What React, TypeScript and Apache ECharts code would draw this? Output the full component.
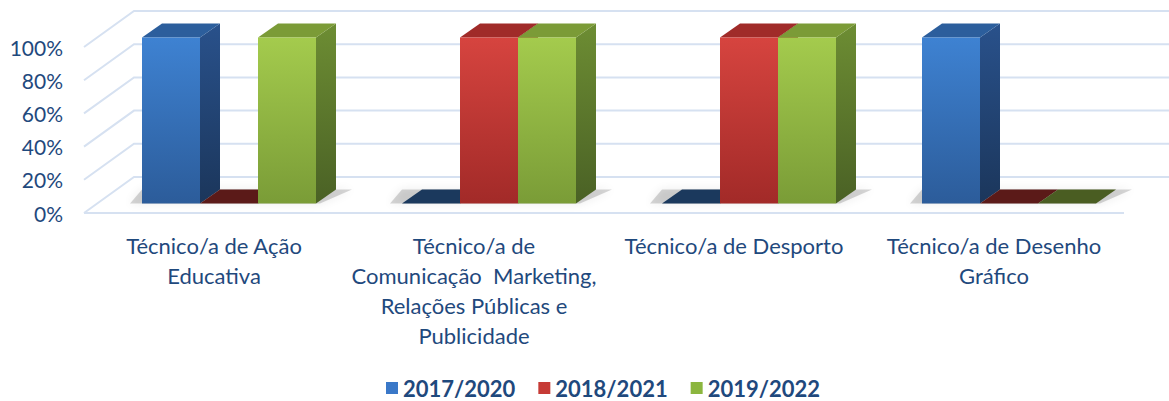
import React, { useEffect, useRef } from 'react';
import * as echarts from 'echarts';

const categories = [
  'Técnico/a de Ação\nEducativa',
  'Técnico/a de\nComunicação  Marketing,\nRelações Públicas e\nPublicidade',
  'Técnico/a de Desporto',
  'Técnico/a de Desenho\nGráfico',
];
const seriesNames = ['2017/2020', '2018/2021', '2019/2022'];
const values2017 = [100, 0, 0, 100];
const values2018 = [0, 100, 100, 0];
const values2019 = [100, 100, 100, 0];
const yTicks = [0, 20, 40, 60, 80, 100];

const palettes = [
  { frontTop: '#3e82d2', frontBottom: '#2c5c9a', sideTop: '#29518b', sideBottom: '#1b365b', top: '#2c5e9c', tile: '#1b395d', legend: '#3a78c8' },
  { frontTop: '#d6443f', frontBottom: '#a22a28', sideTop: '#8e2523', sideBottom: '#5e1917', top: '#a02b29', tile: '#5b1a18', legend: '#c63b36' },
  { frontTop: '#a4cb4d', frontBottom: '#7a9c37', sideTop: '#6d8d33', sideBottom: '#4a6125', top: '#7b9b37', tile: '#4a5d22', legend: '#8cb63f' },
];

const TEXT = '#1f497d';
const FONT = 'Lato';

export default function App() {
  const ref = useRef<HTMLDivElement>(null);
  useEffect(() => {
    if (!ref.current) return;
    const chart = echarts.init(ref.current, null, { renderer: 'svg' });

    const geom = (api: any) => {
      const band = api.size([1, 0])[0];
      const k = band / 260;
      return { k, w: 58 * k, fx: 15 * k, fy: -9.5 * k, dx: 20 * k, dy: -14 * k };
    };

    const barSeries = (s: number, values: number[]) => ({
      type: 'custom',
      name: seriesNames[s],
      z: 3,
      clip: false,
      itemStyle: { color: palettes[s].legend },
      encode: { x: 0, y: 1 },
      data: values.map((v, i) => [i, v]),
      renderItem: (params: any, api: any) => {
        const cat = api.value(0);
        const val = api.value(1);
        const base = api.coord([cat, 0]);
        const topP = api.coord([cat, val]);
        const g = geom(api);
        const p = palettes[s];
        const left = base[0] + g.fx + (s - 1.5) * g.w;
        const right = left + g.w;
        const y0 = base[1] + g.fy;
        const y1 = topP[1] + g.fy;
        if (val === 0) {
          return {
            type: 'polygon',
            shape: { points: [[left, y0], [left + g.dx, y0 + g.dy], [right + g.dx, y0 + g.dy], [right, y0]] },
            style: { fill: p.tile },
          };
        }
        return {
          type: 'group',
          children: [
            {
              type: 'polygon',
              shape: { points: [[right, y1], [right + g.dx, y1 + g.dy], [right + g.dx, y0 + g.dy], [right, y0]] },
              style: { fill: new echarts.graphic.LinearGradient(0, 0, 0, 1, [{ offset: 0, color: p.sideTop }, { offset: 1, color: p.sideBottom }]) },
            },
            {
              type: 'polygon',
              shape: { points: [[left, y1], [left + g.dx, y1 + g.dy], [right + g.dx, y1 + g.dy], [right, y1]] },
              style: { fill: p.top },
            },
            {
              type: 'rect',
              shape: { x: left, y: y1, width: g.w, height: y0 - y1 },
              style: { fill: new echarts.graphic.LinearGradient(0, 0, 0, 1, [{ offset: 0, color: p.frontTop }, { offset: 1, color: p.frontBottom }]) },
            },
          ],
        };
      },
    });

    const wallSeries = {
      type: 'custom',
      z: 1,
      silent: true,
      clip: false,
      encode: { x: 0, y: 1 },
      data: yTicks.map((v) => [0, v]),
      renderItem: (params: any, api: any) => {
        const v = api.value(1);
        const pt = api.coord([0, v]);
        const cs = params.coordSys;
        const band = api.size([1, 0])[0];
        const k = band / 260;
        const ddx = 50 * k;
        const ddy = -36 * k;
        const x0 = cs.x;
        const y = pt[1];
        const children: any[] = [
          {
            type: 'polyline',
            shape: { points: [[x0, y], [x0 + ddx, y + ddy], [cs.x + cs.width + ddx, y + ddy]] },
            style: { stroke: '#d6e1f1', lineWidth: 2, fill: 'none' },
          },
        ];
        if (v === 0) {
          children.push({
            type: 'line',
            shape: { x1: x0, y1: y, x2: cs.x + cs.width, y2: y },
            style: { stroke: '#d6e1f1', lineWidth: 2 },
          });
        }
        return { type: 'group', children };
      },
    };

    const shadowSeries = {
      type: 'custom',
      z: 2,
      silent: true,
      clip: false,
      encode: { x: 0, y: 1 },
      data: categories.map((_, i) => [i, 0]),
      renderItem: (params: any, api: any) => {
        const cat = api.value(0);
        const base = api.coord([cat, 0]);
        const g = geom(api);
        const left = base[0] + g.fx - 1.5 * g.w;
        const right = left + 3 * g.w;
        const y0 = base[1] + g.fy;
        return {
          type: 'polygon',
          shape: {
            points: [
              [left - 12, y0],
              [right + 4, y0],
              [right + g.dx + 16, y0 + g.dy],
              [left + g.dx - 20, y0 + g.dy],
            ],
          },
          style: { fill: 'rgba(0,0,0,0.16)', shadowBlur: 10, shadowColor: 'rgba(0,0,0,0.45)' },
        };
      },
    };

    chart.setOption({
      animation: false,
      backgroundColor: '#ffffff',
      grid: { left: 84, right: 45, top: 47, bottom: 188, containLabel: false },
      legend: {
        data: seriesNames,
        top: 375,
        left: 381,
        icon: 'rect',
        itemWidth: 12,
        itemHeight: 12,
        itemGap: 23,
        padding: [2, 5, 2, 5],
        textStyle: { fontFamily: FONT, fontWeight: 'bold', fontSize: 22, color: TEXT },
      },
      xAxis: {
        type: 'category',
        data: categories,
        axisLine: { show: false },
        axisTick: { show: false },
        splitLine: { show: false },
        axisLabel: { interval: 0, fontFamily: FONT, fontSize: 22, lineHeight: 30, color: TEXT, margin: 17 },
      },
      yAxis: {
        type: 'value',
        min: 0,
        max: 100,
        interval: 20,
        axisLine: { show: false },
        axisTick: { show: false },
        splitLine: { show: false },
        axisLabel: { formatter: '{value}%', fontFamily: FONT, fontSize: 21, color: TEXT, margin: 21 },
      },
      series: [wallSeries, shadowSeries, barSeries(0, values2017), barSeries(1, values2018), barSeries(2, values2019)],
    });
    return () => chart.dispose();
  }, []);
  return <div ref={ref} style={{ position: 'fixed', left: 0, top: 0, width: 1169, height: 401 }} />;
}
